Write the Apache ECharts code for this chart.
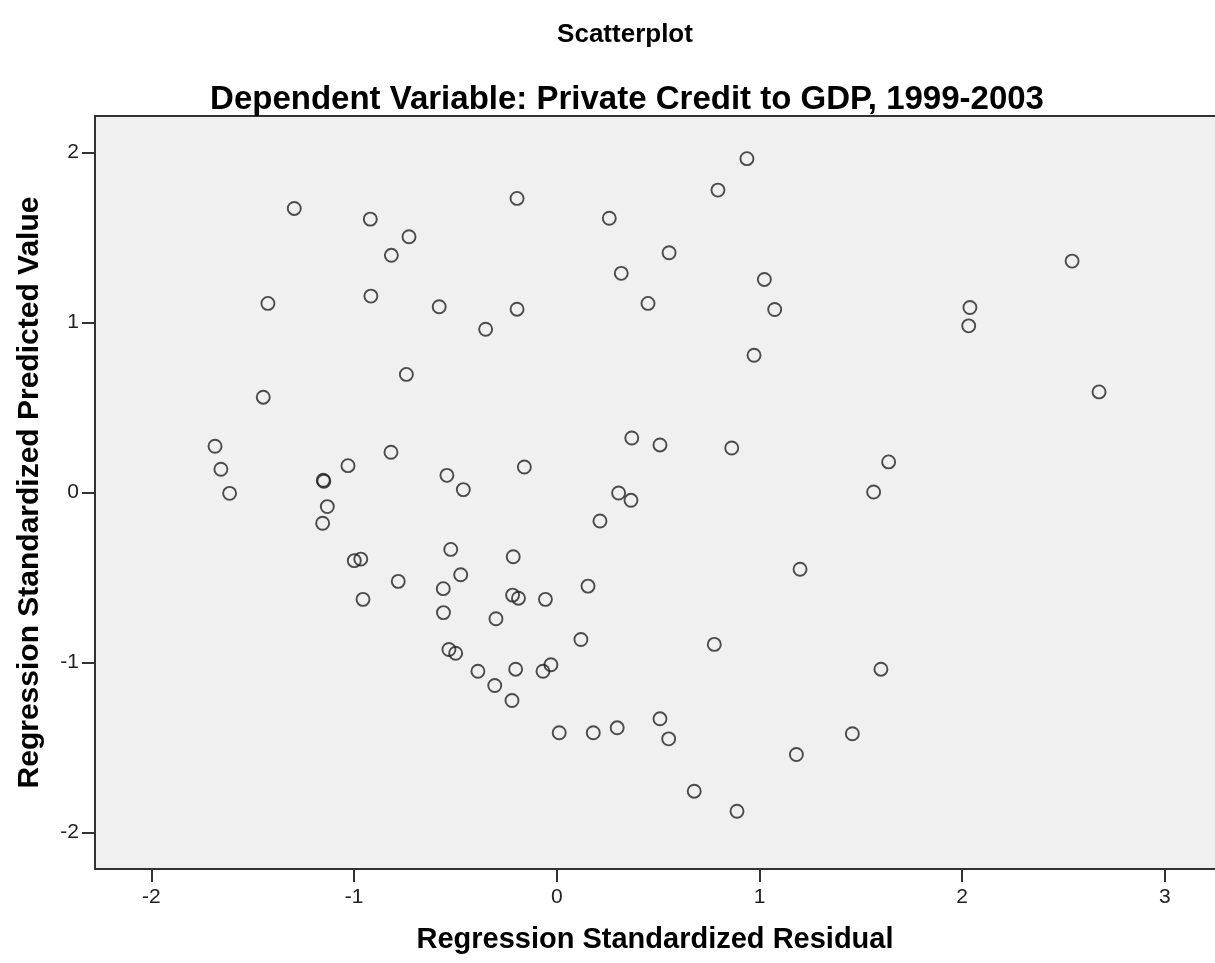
<!DOCTYPE html>
<html>
<head>
<meta charset="utf-8">
<script src="https://cdn.jsdelivr.net/npm/echarts@6/dist/echarts.min.js"></script>
<style>
html,body{margin:0;padding:0;background:#fff;}
#chart{width:1215px;height:963px;}
</style>
</head>
<body>
<div id="chart"></div>
<script>
// Regression standardized residual (x) and predicted value (y)
const residuals = [
  0.938, 0.795, -1.295, -0.196, -0.920, 0.259, -0.729, -0.816, 0.554, 0.318,
  2.542, 1.024, -0.917, -1.425, -0.580, 0.450, -0.196, 1.075, 2.038, 2.032,
  -0.351, 0.973, -0.742, 2.675, -1.448, -1.686, 0.370, 0.509, -1.657, -0.818,
  0.863, -0.160, -0.542, -1.030, 1.637, -1.152, -1.149, -1.614, -0.461, 0.305,
  0.366, 1.563, -1.132, -1.155, 0.213, -0.999, -0.967, -0.523, -0.215, -0.474,
  -0.782, -0.560, 0.154, 1.200, -0.218, -0.189, -0.056, -0.956, -0.559, -0.300,
  0.119, 0.777, -0.532, -0.499, -0.389, -0.203, -0.068, -0.029, 1.599, -0.306,
  -0.221, 0.509, 0.012, 0.180, 0.298, 0.552, 1.458, 1.182, 0.678, 0.889
];
const predicted = [
  1.965, 1.780, 1.672, 1.731, 1.609, 1.614, 1.505, 1.396, 1.411, 1.290,
  1.362, 1.254, 1.156, 1.113, 1.093, 1.113, 1.079, 1.077, 1.089, 0.981,
  0.961, 0.808, 0.695, 0.592, 0.561, 0.272, 0.321, 0.280, 0.137, 0.237,
  0.262, 0.150, 0.101, 0.158, 0.180, 0.072, 0.066, -0.005, 0.017, -0.003,
  -0.046, 0.003, -0.083, -0.181, -0.168, -0.401, -0.392, -0.335, -0.378, -0.484,
  -0.523, -0.566, -0.551, -0.452, -0.604, -0.622, -0.629, -0.629, -0.707, -0.743,
  -0.865, -0.894, -0.924, -0.946, -1.052, -1.040, -1.052, -1.014, -1.040, -1.136,
  -1.224, -1.332, -1.414, -1.414, -1.385, -1.450, -1.420, -1.542, -1.758, -1.876
];
const xTicks = [-2, -1, 0, 1, 2, 3];
const yTicks = [-2, -1, 0, 1, 2];

const points = residuals.map((x, i) => [x, predicted[i]]);

const chart = echarts.init(document.getElementById('chart'), null, {renderer: 'canvas'});
const fontFam = '"Liberation Sans", Arial, sans-serif';
const axisColor = '#333333';
const xRange = {min: -2.278, max: 3.247};
chart.setOption({
  animation: false,
  backgroundColor: '#ffffff',
  title: [
    {text: 'Scatterplot', left: 620, top: 17, textAlign: 'center',
     textStyle: {fontFamily: fontFam, fontSize: 26, fontWeight: 'bold', color: '#000'}},
    {text: 'Dependent Variable: Private Credit to GDP, 1999-2003', left: 622, top: 78, textAlign: 'center',
     textStyle: {fontFamily: fontFam, fontSize: 33, fontWeight: 'bold', color: '#000'}}
  ],
  grid: {
    left: 95, top: 116, right: 0, bottom: 94,
    outerBoundsMode: 'none',
    show: true, backgroundColor: '#f0f0f0', borderWidth: 0
  },
  xAxis: [{
    type: 'value', position: 'bottom', min: xRange.min, max: xRange.max,
    name: 'Regression Standardized Residual', nameLocation: 'middle', nameGap: 56,
    nameTextStyle: {fontFamily: fontFam, fontSize: 29, fontWeight: 'bold', color: '#000'},
    splitLine: {show: false},
    axisLine: {show: true, onZero: false, lineStyle: {color: axisColor, width: 2}},
    axisTick: {show: true, length: 13, customValues: xTicks, lineStyle: {color: axisColor, width: 2}},
    axisLabel: {customValues: xTicks, fontFamily: fontFam, fontSize: 21, color: '#222', margin: 18}
  }, {
    type: 'value', position: 'top', min: xRange.min, max: xRange.max,
    splitLine: {show: false},
    axisLine: {show: true, onZero: false, lineStyle: {color: axisColor, width: 2}},
    axisTick: {show: false},
    axisLabel: {show: false}
  }],
  yAxis: {
    type: 'value', min: -2.216, max: 2.216,
    name: 'Regression Standardized Predicted Value', nameLocation: 'middle', nameGap: 50,
    nameTextStyle: {fontFamily: fontFam, fontSize: 30, fontWeight: 'bold', color: '#000'},
    splitLine: {show: false},
    axisLine: {show: true, onZero: false, lineStyle: {color: axisColor, width: 2}},
    axisTick: {show: true, length: 13, customValues: yTicks, lineStyle: {color: axisColor, width: 2}},
    axisLabel: {customValues: yTicks, fontFamily: fontFam, fontSize: 21, color: '#222', margin: 16}
  },
  series: [{
    type: 'scatter',
    xAxisIndex: 0,
    data: points,
    symbol: 'circle',
    symbolSize: 13,
    itemStyle: {color: 'rgba(0,0,0,0)', borderColor: '#222222', borderWidth: 1.9}
  }]
});
</script>
</body>
</html>
